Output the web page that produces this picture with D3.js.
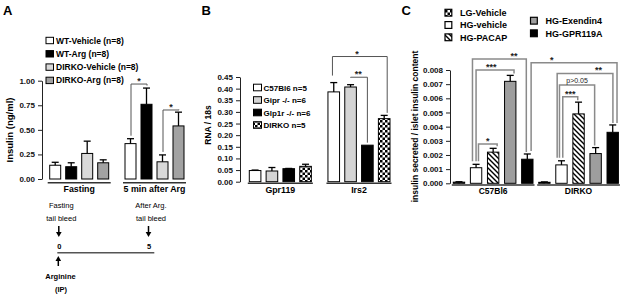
<!DOCTYPE html>
<html>
<head>
<meta charset="utf-8">
<script src="https://cdn.jsdelivr.net/npm/d3@7"></script>
<style>
  body { margin: 0; background: #fff; }
  svg { display: block; font-family: Arial, "Liberation Sans", sans-serif; }
  .axis path, .axis line { stroke: #222; stroke-width: 1; }
  .axis text { font-weight: bold; fill: #111; }
</style>
</head>
<body>
<div id="chart"></div>
<script>

// ---- panel A : insulin ----
const aGroups = ["Fasting", "5 min after Arg"];
const aSeries = ["WT-Vehicle (n=8)", "WT-Arg (n=8)", "DIRKO-Vehicle (n=8)", "DIRKO-Arg (n=8)"];
const aMeans = [[0.14, 0.125, 0.26, 0.165], [0.36, 0.76, 0.175, 0.54]];
const aErrs  = [[0.03, 0.04, 0.125, 0.03], [0.05, 0.165, 0.07, 0.14]];
const aTicks = [0, 0.25, 0.5, 0.75, 1.0];
// [group, from bar, to bar, bracket level, label]
const aSig = [[1, 0, 1, 0.966, "*"], [1, 2, 3, 0.702, "*"]];

// ---- panel B : RNA / 18s ----
const bGroups = ["Gpr119", "Irs2"];
const bSeries = ["C57Bl6 n=5", "Gipr -/- n=6", "Glp1r -/- n=6", "DIRKO n=5"];
const bMeans = [[0.048, 0.046, 0.056, 0.066], [0.386, 0.407, 0.157, 0.271]];
const bErrs  = [[0.002, 0.015, 0.001, 0.009], [0.04, 0.01, 0, 0.014]];
const bTicks = d3.range(0, 0.451, 0.05);
const bSig = [[1, 0, 3, 0.538, "*"], [1, 1, 2, 0.449, "**"]];

// ---- panel C : insulin secreted / content ----
const cGroups = ["C57Bl6", "DIRKO"];
const cSeries = ["LG-Vehicle", "HG-vehicle", "HG-PACAP", "HG-Exendin4", "HG-GPR119A"];
const cMeans = [[0.00008, 0.0011, 0.0022, 0.0072, 0.0017], [0.00007, 0.0013, 0.0049, 0.0021, 0.0036]];
const cErrs  = [[0.00003, 0.00024, 0.00027, 0.00042, 0.00037], [0.00003, 0.00029, 0.00083, 0.00042, 0.00052]];
const cTicks = d3.range(0, 0.00801, 0.001);
// [from group, from bar, to group, to bar, level, label]
const cSig = [
  [0, 1, 0, 2, 0.00277, "*"],
  [0, 1, 0, 3, 0.0080, "***"],
  [0, 1, 0, 4, 0.00877, "**"],
  [0, 4, 1, 4, 0.00851, "*"],
  [1, 1, 1, 4, 0.00776, "**"],
  [1, 1, 1, 3, 0.00694, "p>0.05"],
  [1, 1, 1, 2, 0.00611, "***"]
];

// timeline in panel A (minutes)
const tMarks = [0, 5];

const W = 626, H = 296;
const svg = d3.select("#chart").append("svg").attr("width", W).attr("height", H);

// fill patterns
const defs = svg.append("defs");
const checker = defs.append("pattern").attr("id", "checker")
  .attr("patternUnits", "userSpaceOnUse").attr("width", 5).attr("height", 5);
checker.append("rect").attr("width", 5).attr("height", 5).attr("fill", "#fff");
checker.append("rect").attr("width", 2.5).attr("height", 2.5).attr("fill", "#000");
checker.append("rect").attr("x", 2.5).attr("y", 2.5).attr("width", 2.5).attr("height", 2.5).attr("fill", "#000");
const hatch = defs.append("pattern").attr("id", "hatch")
  .attr("patternUnits", "userSpaceOnUse").attr("width", 5).attr("height", 5);
hatch.append("rect").attr("width", 5).attr("height", 5).attr("fill", "#fff");
hatch.append("path").attr("d", "M-1,-1L6,6M-1,4L1,6M4,-1L6,1")
  .attr("stroke", "#000").attr("stroke-width", 1.4);

const aFill = ["#fff", "#000", "#d9d9d9", "#a2a2a2"];
const bFill = ["#fff", "#d4d4d4", "#000", "url(#checker)"];
const cFill = ["url(#checker)", "#fff", "url(#hatch)", "#9e9e9e", "#000"];

// shared grouped bar drawing
function drawBars(groups, means, errs, fills, x0, x1, y) {
  const rows = groups.flatMap((grp, gi) => means[gi].map((v, i) => ({grp, i, v, e: errs[gi][i]})));
  const g = svg.append("g");
  g.selectAll("rect").data(rows).join("rect")
    .attr("x", d => x0(d.grp) + x1(d.i))
    .attr("y", d => y(d.v))
    .attr("width", x1.bandwidth())
    .attr("height", d => y(0) - y(d.v))
    .attr("fill", d => fills[d.i])
    .attr("stroke", "#000").attr("stroke-width", 1);
  const cx = d => x0(d.grp) + x1(d.i) + x1.bandwidth() / 2;
  const eb = rows.filter(d => d.e > 0);
  g.selectAll("line.err").data(eb).join("line").attr("class", "err")
    .attr("x1", cx).attr("x2", cx)
    .attr("y1", d => y(d.v)).attr("y2", d => y(d.v + d.e))
    .attr("stroke", "#000").attr("stroke-width", 1.3);
  g.selectAll("line.cap").data(eb).join("line").attr("class", "cap")
    .attr("x1", d => cx(d) - 3.5).attr("x2", d => cx(d) + 3.5)
    .attr("y1", d => y(d.v + d.e)).attr("y2", d => y(d.v + d.e))
    .attr("stroke", "#000").attr("stroke-width", 1.3);
  return rows;
}

function groupLines(groups, x0, y0, pad, labelY, size) {
  groups.forEach(grp => {
    svg.append("line")
      .attr("x1", x0(grp) - pad).attr("x2", x0(grp) + x0.bandwidth() + pad)
      .attr("y1", y0).attr("y2", y0)
      .attr("stroke", "#333").attr("stroke-width", 1.4);
    svg.append("text")
      .attr("x", x0(grp) + x0.bandwidth() / 2).attr("y", labelY)
      .attr("text-anchor", "middle").attr("font-size", size).attr("font-weight", "bold")
      .text(grp);
  });
}

function bracket(xa, xb, yTop, ya, yb, label, color, sw, lx) {
  svg.append("path")
    .attr("d", `M${xa},${ya}V${yTop}H${xb}V${yb}`)
    .attr("fill", "none").attr("stroke", color).attr("stroke-width", sw);
  const isStar = /^\*+$/.test(label);
  svg.append("text")
    .attr("x", xa + (xb - xa) * (lx == null ? 0.5 : lx))
    .attr("y", yTop - (isStar ? 0 : 2.5))
    .attr("text-anchor", "middle")
    .attr("font-size", isStar ? 9 : 7)
    .attr("font-weight", isStar ? "bold" : "normal")
    .attr("fill", "#222")
    .text(label);
}

function title(t, x) {
  svg.append("text").attr("x", x).attr("y", 15)
    .attr("font-size", 13).attr("font-weight", "bold").text(t);
}

function yTitle(t, x, y, size) {
  svg.append("text")
    .attr("transform", `translate(${x},${y}) rotate(-90)`)
    .attr("text-anchor", "middle").attr("font-size", size).attr("font-weight", "bold")
    .text(t);
}

// ================= A =================
const yA = d3.scaleLinear().domain([0, 1]).range([179, 80.7]);
const xA0 = d3.scaleBand().domain(aGroups).range([49.7, 184]).paddingInner(0.2165).paddingOuter(0);
const xA1 = d3.scaleBand().domain(d3.range(4)).range([0, xA0.bandwidth()]).paddingInner(0.3125).paddingOuter(0);

svg.append("g").attr("class", "axis").attr("transform", "translate(42,0)")
  .call(d3.axisLeft(yA).tickValues(aTicks).tickFormat(d3.format(".2f")).tickSize(4).tickSizeOuter(0))
  .selectAll("text").attr("font-size", 8).attr("font-family", null);
drawBars(aGroups, aMeans, aErrs, aFill, xA0, xA1, yA);
groupLines(aGroups, xA0, 182.7, 2, 192, 8.8);
title("A", 3);
yTitle("Insulin (ng/ml)", 13, 130, 9.5);

aSig.forEach(([gi, f, t, lvl, lab]) => {
  const grp = aGroups[gi];
  const xa = xA0(grp) + xA1(f) + xA1.bandwidth() / 2 + 0.5;
  const xb = xA0(grp) + xA1(t) + xA1.bandwidth() / 2 + 0.5;
  bracket(xa, xb, yA(lvl),
    yA(aMeans[gi][f] + aErrs[gi][f]) - 3, yA(aMeans[gi][t] + aErrs[gi][t]) - 2.5,
    lab, "#555", 1, 0.5);
});

// legend A
aSeries.forEach((s, i) => {
  const ly = 40.5 + i * 13.3;
  svg.append("rect").attr("x", 46).attr("y", ly - 3.2).attr("width", 7.5).attr("height", 6.4)
    .attr("fill", aFill[i]).attr("stroke", "#000").attr("stroke-width", 1);
  svg.append("text").attr("x", 56).attr("y", ly + 3).attr("font-size", 8.5)
    .attr("font-weight", "bold").text(s);
});

// timeline
const tX = d3.scaleLinear().domain([0, 5]).range([59.3, 149]);
function arrow(x, yFrom, yTip) {
  const dir = yTip > yFrom ? 1 : -1;
  svg.append("line").attr("x1", x).attr("x2", x).attr("y1", yFrom).attr("y2", yTip - dir * 4)
    .attr("stroke", "#000").attr("stroke-width", 1.5);
  svg.append("path").attr("d", `M${x - 2.8},${yTip - dir * 5}L${x + 2.8},${yTip - dir * 5}L${x},${yTip}Z`)
    .attr("fill", "#000");
}
svg.append("line").attr("x1", tX(0) - 2).attr("x2", tX(5) + 5.3)
  .attr("y1", 252.7).attr("y2", 252.7).attr("stroke", "#555").attr("stroke-width", 1.5);
const tTop = [["Fasting", "tail bleed"], ["After Arg.", "tail bleed"]];
tMarks.forEach((m, i) => {
  const x = tX(m);
  svg.append("text").attr("x", x + 2).attr("y", 207.5).attr("text-anchor", "middle")
    .attr("font-size", 7.5).text(tTop[i][0]);
  svg.append("text").attr("x", x + 2).attr("y", 220.8).attr("text-anchor", "middle")
    .attr("font-size", 7.5).text(tTop[i][1]);
  arrow(x - 0.5, 226, 237);
  svg.append("text").attr("x", x).attr("y", 248.8).attr("text-anchor", "middle")
    .attr("font-size", 7.5).attr("font-weight", "bold").text(m);
});
arrow(tX(0) - 1, 266, 256);
svg.append("text").attr("x", 60.5).attr("y", 278.5).attr("text-anchor", "middle")
  .attr("font-size", 7.5).attr("font-weight", "bold").text("Arginine");
svg.append("text").attr("x", 61).attr("y", 292).attr("text-anchor", "middle")
  .attr("font-size", 7.5).attr("font-weight", "bold").text("(IP)");

// ================= B =================
const yB = d3.scaleLinear().domain([0, 0.45]).range([181.7, 77]);
const xB0 = d3.scaleBand().domain(bGroups).range([249.3, 390]).paddingInner(0.211).paddingOuter(0);
const xB1 = d3.scaleBand().domain(d3.range(4)).range([0, xB0.bandwidth()]).paddingInner(0.31).paddingOuter(0);

svg.append("g").attr("class", "axis").attr("transform", "translate(240,0)")
  .call(d3.axisLeft(yB).tickValues(bTicks).tickFormat(d3.format(".2f")).tickSize(4).tickSizeOuter(0))
  .selectAll("text").attr("font-size", 8).attr("font-family", null);
drawBars(bGroups, bMeans, bErrs, bFill, xB0, xB1, yB);
groupLines(bGroups, xB0, 183.3, 1.5, 193, 8.8);
title("B", 201.5);
yTitle("RNA / 18s", 211, 125, 8.5);

const bDx = [[-1.3, 3], [0, 0]];
bSig.forEach(([gi, f, t, lvl, lab], k) => {
  const grp = bGroups[gi];
  const xa = xB0(grp) + xB1(f) + xB1.bandwidth() / 2 + bDx[k][0];
  const xb = xB0(grp) + xB1(t) + xB1.bandwidth() / 2 + bDx[k][1];
  bracket(xa, xb, yB(lvl),
    yB(bMeans[gi][f] + bErrs[gi][f]) - 7, yB(bMeans[gi][t] + bErrs[gi][t]) - 2.5,
    lab, "#555", 1, 0.45);
});

// legend B
bSeries.forEach((s, i) => {
  const ly = 87.5 + i * 12.5;
  svg.append("rect").attr("x", 253.5).attr("y", ly - 3.3).attr("width", 8).attr("height", 6.6)
    .attr("fill", bFill[i]).attr("stroke", "#000").attr("stroke-width", 1);
  svg.append("text").attr("x", 263.5).attr("y", ly + 3).attr("font-size", 8)
    .attr("font-weight", "bold").text(s);
});

// ================= C =================
const yC = d3.scaleLinear().domain([0, 0.008]).range([183.3, 70]);
const xC0 = d3.scaleBand().domain(cGroups).range([453.3, 618.4]).paddingInner(0.0667).paddingOuter(0);
const xC1 = d3.scaleBand().domain(d3.range(5)).range([0, xC0.bandwidth()]).paddingInner(0.334).paddingOuter(0);

svg.append("g").attr("class", "axis").attr("transform", "translate(450,0)")
  .call(d3.axisLeft(yC).tickValues(cTicks).tickFormat(d3.format(".3f")).tickSize(4).tickSizeOuter(0))
  .selectAll("text").attr("font-size", 8).attr("font-family", null);
drawBars(cGroups, cMeans, cErrs, cFill, xC0, xC1, yC);
groupLines(cGroups, xC0, 185, 1.5, 193.5, 8.5);
title("C", 401.5);
yTitle("insulin secreted / islet insulin content", 418, 126.5, 8.5);

const cDx = [[2.4, 4], [0, 3.8], [-3.6, -1], [3.8, 4.3], [-4.3, 0.2], [-2, -1], [1.3, -0.8]];
const cLx = [0.5, 0.4, 0.77, 0.24, 0.74, 0.5, 0.5];
cSig.forEach(([ga, f, gb, t, lvl, lab], k) => {
  const xa = xC0(cGroups[ga]) + xC1(f) + xC1.bandwidth() / 2 + cDx[k][0];
  const xb = xC0(cGroups[gb]) + xC1(t) + xC1.bandwidth() / 2 + cDx[k][1];
  bracket(xa, xb, yC(lvl),
    yC(cMeans[ga][f] + cErrs[ga][f]) - 3, yC(cMeans[gb][t] + cErrs[gb][t]) - 2,
    lab, "#8a8a8a", 1.5, cLx[k]);
});

// legend C (two columns)
cSeries.forEach((s, i) => {
  const col = i < 3 ? 0 : 1;
  const ly = col === 0 ? 12.7 + i * 12.3 : 20.7 + (i - 3) * 12.6;
  const lx = col === 0 ? 445 : 530.5;
  svg.append("rect").attr("x", lx).attr("y", ly - 3.4).attr("width", 6.8).attr("height", 6.8)
    .attr("fill", cFill[i]).attr("stroke", "#000").attr("stroke-width", 1.2);
  svg.append("text").attr("x", lx + 15).attr("y", ly + 3.2).attr("font-size", 9)
    .attr("font-weight", "bold").text(s);
});

</script>
</body>
</html>
